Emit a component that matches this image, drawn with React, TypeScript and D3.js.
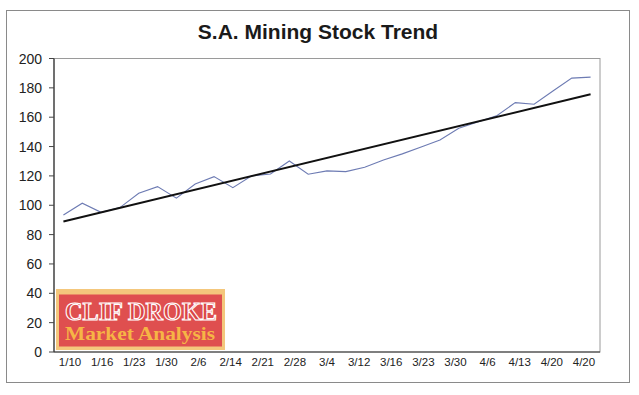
import React from "react";
import * as d3 from "d3";

const title = "S.A. Mining Stock Trend";
const xLabels = ["1/10", "1/16", "1/23", "1/30", "2/6", "2/14", "2/21", "2/28", "3/4", "3/12", "3/16", "3/23", "3/30", "4/6", "4/13", "4/20", "4/20"];
const values = [93.4, 101.4, 95.2, 98.4, 108.2, 112.7, 104.8, 114.5, 119.5, 112, 120, 121.3, 130.2, 121.1, 123.4, 122.9, 125.9, 130.9, 135, 139.7, 144.5, 152.4, 156.8, 160.9, 169.9, 168.8, 177.9, 186.6, 187.3];
const yTicks = [0, 20, 40, 60, 80, 100, 120, 140, 160, 180, 200];

const W = 639, H = 395;
const left = 54, right = 600, top = 58.5, bottom = 352;

export default function App() {
  const idx = values.map((_, i) => i);
  const xData = d3.scaleBand<number>().domain(idx).range([left, right]);
  const xLab = d3.scaleBand<string>().domain(xLabels.map((_, i) => String(i))).range([left, right]);
  const y = d3.scaleLinear().domain([0, 200]).range([bottom, top]);
  const cx = (i: number) => (xData(i) as number) + xData.bandwidth() / 2;

  const line = d3.line<number>().x((_, i) => cx(i)).y((v) => y(v));

  // least squares trend
  const n = values.length;
  const mx = d3.mean(idx) as number;
  const my = d3.mean(values) as number;
  const slope = d3.sum(idx, (i) => (i - mx) * (values[i] - my)) / d3.sum(idx, (i) => (i - mx) ** 2);
  const icpt = my - slope * mx;
  const trend = [icpt, icpt + slope * (n - 1)];

  return (
    <svg width={W} height={H} style={{ position: "absolute", left: 0, top: 0, background: "#fff" }}>
      <rect x={6.5} y={10.5} width={623} height={372} fill="#fff" stroke="#8a8a8a" strokeWidth={1} />
      <text x={318} y={39} textAnchor="middle" fontFamily="Liberation Sans, Arial, sans-serif" fontWeight="bold" fontSize={21} fill="#1a1a1a">{title}</text>
      <rect x={left} y={top} width={right - left} height={bottom - top} fill="#fff" stroke="#9a9a9a" strokeWidth={1} />
      <line x1={left} x2={left} y1={top} y2={bottom} stroke="#333" strokeWidth={1.2} />
      <line x1={left} x2={right} y1={bottom} y2={bottom} stroke="#333" strokeWidth={1.2} />
      {yTicks.map((t) => (
        <g key={t}>
          <line x1={left - 5} x2={left} y1={y(t)} y2={y(t)} stroke="#444" strokeWidth={1} />
          <text x={42} y={y(t) + 5} textAnchor="end" fontFamily="Liberation Sans, Arial, sans-serif" fontSize={14} fill="#222">{t}</text>
        </g>
      ))}
      {xLabels.map((l, i) => (
        <text key={i} x={(xLab(String(i)) as number) + xLab.bandwidth() / 2} y={366} textAnchor="middle" fontFamily="Liberation Sans, Arial, sans-serif" fontSize={11.5} fill="#222">{l}</text>
      ))}
      <path d={line(values) || ""} fill="none" stroke="#6d7bb3" strokeWidth={1.1} />
      <line x1={cx(0)} x2={cx(n - 1)} y1={y(trend[0])} y2={y(trend[1])} stroke="#111" strokeWidth={2} />
      <g>
        <rect x={56} y={289} width={169} height={61} fill="#f4c77c" />
        <rect x={59} y={294.5} width={163} height={52} fill="#df4f4f" />
        <text x={65} y={319.5} fontFamily="Liberation Serif, Times New Roman, serif" fontWeight="bold" fontSize={25} textLength={152} lengthAdjust="spacingAndGlyphs" fill="#d94545" stroke="#fff" strokeWidth={1.1}>CLIF DROKE</text>
        <text x={65} y={340} fontFamily="Liberation Serif, Times New Roman, serif" fontWeight="bold" fontSize={18} textLength={150} lengthAdjust="spacingAndGlyphs" fill="#f6b545">Market Analysis</text>
      </g>
    </svg>
  );
}
